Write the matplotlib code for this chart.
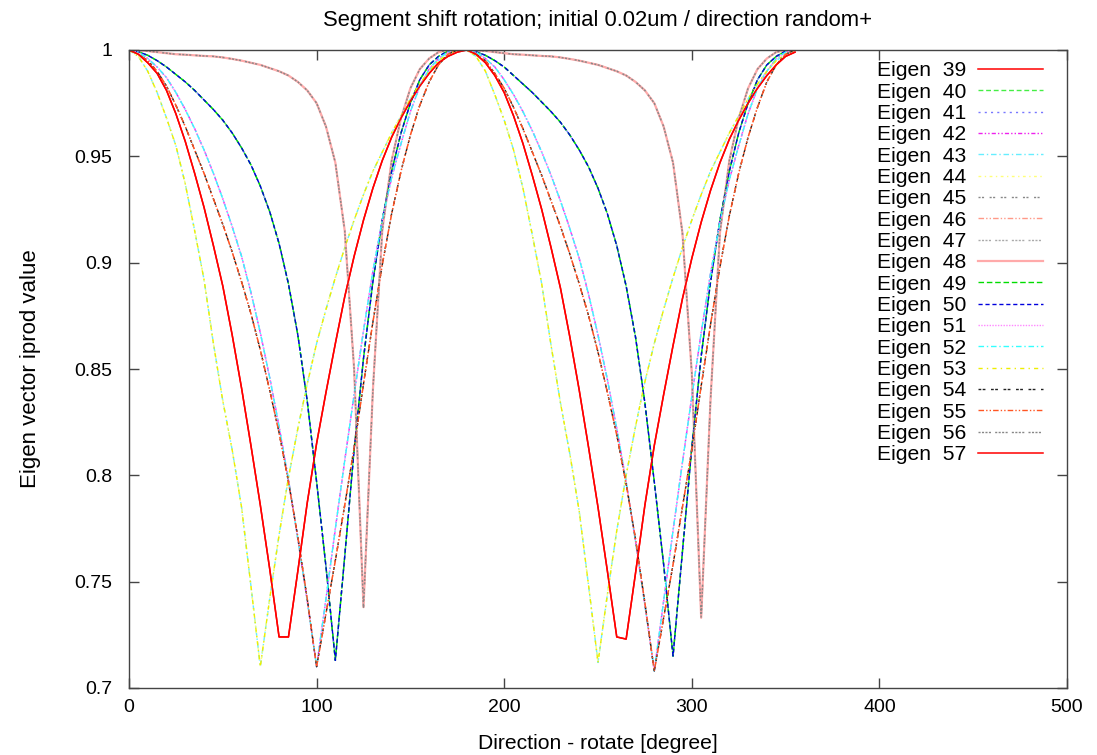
"""Eigen vector iprod value vs. rotation direction (gnuplot-style line plot)."""

import matplotlib
matplotlib.use("Agg")
import matplotlib.pyplot as plt
import numpy as np

plt.rcParams.update({
    "font.family": ["Liberation Sans", "DejaVu Sans"],
    "font.size": 14,
    "xtick.direction": "in",
    "ytick.direction": "in",
    "xtick.top": True,
    "ytick.right": True,
})

# ---------------------------------------------------------------------------
# Data (5 degree steps, 0 .. 355)
# ---------------------------------------------------------------------------
angle = np.arange(0, 360, 5)

dip70 = [
    1.0, 0.997, 0.99, 0.98, 0.968, 0.955, 0.937, 0.915, 0.892, 0.862, 0.835, 0.812,
    0.785, 0.748, 0.71, 0.742, 0.772, 0.799, 0.822, 0.843, 0.862, 0.878, 0.893, 0.907,
    0.92, 0.932, 0.943, 0.952, 0.961, 0.969, 0.977, 0.984, 0.99, 0.995, 0.998, 1.0,
    1.0, 0.997, 0.99, 0.979, 0.967, 0.953, 0.935, 0.913, 0.89, 0.861, 0.834, 0.81,
    0.783, 0.748, 0.712, 0.744, 0.774, 0.8, 0.823, 0.844, 0.862, 0.878, 0.893, 0.907,
    0.92, 0.932, 0.943, 0.952, 0.961, 0.969, 0.977, 0.984, 0.99, 0.995, 0.998, 1.0,
]

flat82 = [
    1.0, 0.998, 0.994, 0.989, 0.981, 0.97, 0.957, 0.942, 0.926, 0.908, 0.889, 0.866,
    0.841, 0.814, 0.786, 0.756, 0.724, 0.724, 0.755, 0.787, 0.815, 0.839, 0.862, 0.884,
    0.903, 0.92, 0.935, 0.948, 0.959, 0.968, 0.976, 0.983, 0.989, 0.994, 0.997, 0.999,
    1.0, 0.998, 0.994, 0.988, 0.98, 0.969, 0.956, 0.941, 0.925, 0.907, 0.888, 0.865,
    0.84, 0.813, 0.785, 0.755, 0.724, 0.723, 0.754, 0.786, 0.814, 0.838, 0.861, 0.883,
    0.902, 0.919, 0.934, 0.947, 0.958, 0.967, 0.975, 0.982, 0.988, 0.993, 0.997, 0.999,
]

dip100a = [
    1.0, 0.999, 0.996, 0.992, 0.987, 0.98, 0.972, 0.963, 0.953, 0.942, 0.93, 0.917,
    0.903, 0.886, 0.867, 0.846, 0.823, 0.798, 0.77, 0.741, 0.71, 0.742, 0.775, 0.807,
    0.838, 0.868, 0.896, 0.92, 0.94, 0.956, 0.971, 0.983, 0.991, 0.996, 0.999, 1.0,
    1.0, 0.999, 0.996, 0.992, 0.986, 0.979, 0.971, 0.962, 0.952, 0.941, 0.929, 0.916,
    0.902, 0.885, 0.866, 0.845, 0.822, 0.797, 0.769, 0.739, 0.708, 0.741, 0.774, 0.806,
    0.837, 0.867, 0.895, 0.919, 0.939, 0.955, 0.97, 0.982, 0.99, 0.996, 0.999, 1.0,
]

dip100b = [
    1.0, 0.998, 0.995, 0.99, 0.983, 0.974, 0.964, 0.953, 0.942, 0.93, 0.918, 0.905,
    0.891, 0.876, 0.859, 0.84, 0.82, 0.797, 0.771, 0.742, 0.71, 0.735, 0.76, 0.786,
    0.813, 0.843, 0.872, 0.899, 0.923, 0.943, 0.96, 0.974, 0.985, 0.993, 0.998, 1.0,
    1.0, 0.998, 0.995, 0.989, 0.982, 0.973, 0.963, 0.952, 0.941, 0.929, 0.917, 0.904,
    0.89, 0.875, 0.858, 0.839, 0.819, 0.796, 0.77, 0.74, 0.708, 0.733, 0.758, 0.785,
    0.812, 0.842, 0.871, 0.898, 0.922, 0.942, 0.959, 0.973, 0.985, 0.993, 0.998, 1.0,
]

dip110 = [
    1.0, 0.9992, 0.9975, 0.995, 0.992, 0.9885, 0.985, 0.981, 0.9765, 0.972, 0.967, 0.961,
    0.954, 0.946, 0.936, 0.924, 0.909, 0.89, 0.866, 0.835, 0.797, 0.757, 0.713, 0.762,
    0.812, 0.855, 0.891, 0.92, 0.943, 0.961, 0.975, 0.986, 0.993, 0.997, 0.9995, 1.0,
    1.0, 0.9992, 0.9975, 0.995, 0.992, 0.988, 0.984, 0.98, 0.9755, 0.971, 0.966, 0.96,
    0.953, 0.945, 0.935, 0.923, 0.908, 0.889, 0.865, 0.834, 0.797, 0.758, 0.715, 0.764,
    0.813, 0.856, 0.891, 0.92, 0.943, 0.961, 0.975, 0.986, 0.993, 0.997, 0.9995, 1.0,
]

dip125 = [
    1.0, 0.9998, 0.9995, 0.999, 0.9985, 0.998, 0.9978, 0.9975, 0.9972, 0.997, 0.9965, 0.9958,
    0.995, 0.994, 0.993, 0.9915, 0.99, 0.988, 0.985, 0.981, 0.975, 0.964, 0.947, 0.915,
    0.85, 0.738, 0.84, 0.915, 0.948, 0.968, 0.982, 0.991, 0.996, 0.999, 1.0, 1.0,
    1.0, 0.9998, 0.9995, 0.999, 0.9985, 0.998, 0.9978, 0.9975, 0.9972, 0.997, 0.9965, 0.9958,
    0.995, 0.994, 0.993, 0.9915, 0.99, 0.988, 0.985, 0.981, 0.975, 0.964, 0.947, 0.914,
    0.848, 0.733, 0.836, 0.914, 0.948, 0.968, 0.982, 0.991, 0.996, 0.999, 1.0, 1.0,
]

eigen_ids = list(range(39, 58))
eigen_curve = {
    39: flat82, 40: dip110, 41: dip110, 42: dip100a, 43: dip70, 44: dip70,
    45: dip125, 46: dip100b, 47: dip125, 48: dip125, 49: dip110, 50: dip110,
    51: dip100a, 52: dip100a, 53: dip70, 54: dip100b, 55: dip100b, 56: dip125,
    57: flat82,
}

# gnuplot-like line types: colour, dash pattern (None = solid), width
STYLES = {
    39: ("#ff0000", None, 1.1),
    40: ("#44ee44", (3.5, 2), 1.0),
    41: ("#7777ff", (1.5, 3), 1.0),
    42: ("#ee22ee", (3, 1.5, 1, 1.5, 1, 1.5), 1.0),
    43: ("#66eeff", (4, 2, 1, 2), 1.0),
    44: ("#ffff77", (2, 2.5, 1, 2.5), 1.0),
    45: ("#888888", (1.5, 1, 1.5, 4), 1.0),
    46: ("#ff9988", (4, 1.5, 1, 1.5, 1, 1.5), 1.0),
    47: ("#aaaaaa", (1.5, 1, 1.5, 1, 1.5, 1, 1.5, 3), 1.0),
    48: ("#ffaaaa", None, 1.6),
    49: ("#00dd00", (4, 2), 1.0),
    50: ("#0000dd", (3, 2), 1.0),
    51: ("#ff88ff", (1, 1), 1.0),
    52: ("#33ffff", (4, 2, 1, 2), 1.0),
    53: ("#eeee00", (3, 3, 1, 3), 1.0),
    54: ("#222222", (2, 1, 2, 4), 1.0),
    55: ("#ff5522", (4, 1.5, 1, 1.5, 1, 1.5), 1.0),
    56: ("#888888", (1.5, 1, 1.5, 1, 1.5, 1, 1.5, 3), 1.0),
    57: ("#ff0000", None, 1.1),
}

# ---------------------------------------------------------------------------
# Figure
# ---------------------------------------------------------------------------
fig = plt.figure(figsize=(10.97, 7.55), dpi=100)
ax = fig.add_axes([129 / 1097, 1 - 688 / 755, (1067 - 129) / 1097, (688 - 50) / 755])

for k in eigen_ids:
    color, dash, lw = STYLES[k]
    line, = ax.plot(angle, eigen_curve[k], color=color, lw=lw, label=f"Eigen  {k}")
    if dash is not None:
        line.set_dashes(dash)

ax.set_xlim(0, 500)
ax.set_ylim(0.7, 1.0)
ax.set_xticks([0, 100, 200, 300, 400, 500])
ax.set_yticks([0.7, 0.75, 0.8, 0.85, 0.9, 0.95, 1.0])
ax.set_yticklabels(["0.7", "0.75", "0.8", "0.85", "0.9", "0.95", "1"])
ax.tick_params(length=7, width=1, color="#444444", labelsize=14)
ax.tick_params(axis="x", pad=8)
ax.tick_params(axis="y", pad=12)
for sp in ax.spines.values():
    sp.set_color("#444444")
    sp.set_linewidth(1.0)

ax.set_xlabel("Direction - rotate [degree]", fontsize=15.2, labelpad=13)
ax.set_ylabel("Eigen vector iprod value", fontsize=16, labelpad=24)
ax.set_title("Segment shift rotation; initial 0.02um / direction random+",
             fontsize=15.8, pad=17)

ax.legend(loc="upper right", bbox_to_anchor=(0.9744, 0.982), frameon=False,
          markerfirst=False, fontsize=15.2, handlelength=3.1, handletextpad=0.55,
          labelspacing=0.11, borderpad=0, borderaxespad=0)

fig.savefig("out.png", dpi=100)
